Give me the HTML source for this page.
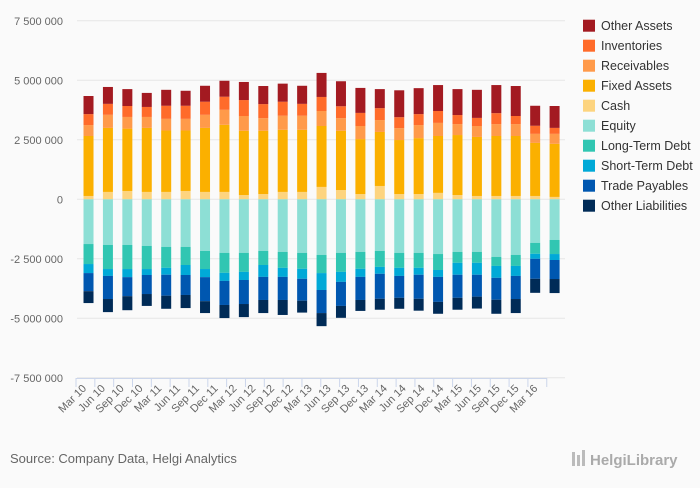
<!DOCTYPE html>
<html><head><meta charset="utf-8"><style>
body{margin:0;background:#fafafa;font-family:"Liberation Sans",sans-serif;}
svg text{font-family:"Liberation Sans",sans-serif;}
</style></head><body>
<svg id="chart" width="700" height="483" xmlns="http://www.w3.org/2000/svg">
<rect width="700" height="483" fill="#fafafa"/>
<g id="grid"></g>
<g id="bars"></g>
<g id="xaxis"></g>
<g id="legend"></g>
<text x="10" y="463" font-size="13" fill="#666">Source: Company Data, Helgi Analytics</text>
<g>
<rect x="572" y="452" width="3" height="14" fill="#bbb"/><rect x="577" y="455" width="3" height="11" fill="#bbb"/><rect x="582" y="450" width="3" height="16" fill="#bbb"/>
<text x="590" y="465" font-size="15" fill="#aaa" font-weight="bold">HelgiLibrary</text>
</g>
</svg>
<script>
const categories=["Mar 10","Jun 10","Sep 10","Dec 10","Mar 11","Jun 11","Sep 11","Dec 11","Mar 12","Jun 12","Sep 12","Dec 12","Mar 13","Jun 13","Sep 13","Dec 13","Mar 14","Jun 14","Sep 14","Dec 14","Mar 15","Jun 15","Sep 15","Dec 15","Mar 16"];
// values in millions
const cash=[0.14,0.31,0.35,0.31,0.31,0.35,0.31,0.31,0.18,0.22,0.31,0.31,0.52,0.39,0.22,0.56,0.22,0.22,0.27,0.18,0.14,0.14,0.14,0.14,0.10];
const fixedAssets=[2.52,2.69,2.62,2.69,2.58,2.54,2.69,2.82,2.70,2.66,2.61,2.61,2.56,2.49,2.31,2.27,2.27,2.35,2.39,2.52,2.48,2.52,2.52,2.23,2.23];
const receivables=[0.46,0.55,0.49,0.46,0.49,0.49,0.55,0.63,0.62,0.53,0.59,0.59,0.63,0.53,0.55,0.50,0.50,0.55,0.55,0.46,0.46,0.50,0.50,0.38,0.42];
const inventories=[0.46,0.46,0.46,0.42,0.55,0.55,0.55,0.55,0.67,0.59,0.59,0.50,0.59,0.50,0.55,0.50,0.46,0.46,0.50,0.38,0.34,0.46,0.34,0.34,0.25];
const otherAssets=[0.76,0.71,0.71,0.59,0.67,0.63,0.67,0.67,0.76,0.76,0.76,0.76,1.01,1.05,1.05,0.80,1.13,1.09,1.09,1.09,1.18,1.18,1.26,0.84,0.92];
const equity=[1.88,1.92,1.92,1.96,2.00,2.00,2.17,2.25,2.25,2.17,2.21,2.25,2.34,2.25,2.21,2.17,2.25,2.25,2.30,2.21,2.21,2.42,2.34,1.83,1.71];
const longTermDebt=[0.84,1.01,1.01,0.97,0.88,0.76,0.76,0.84,0.80,0.59,0.67,0.67,0.76,0.80,0.71,0.67,0.63,0.63,0.67,0.46,0.46,0.38,0.46,0.46,0.59];
const shortTermDebt=[0.38,0.29,0.34,0.25,0.29,0.42,0.34,0.34,0.34,0.50,0.38,0.42,0.71,0.42,0.34,0.29,0.34,0.29,0.29,0.50,0.50,0.50,0.42,0.21,0.25];
const tradePayables=[0.76,0.97,0.80,0.80,0.88,0.84,1.01,1.01,1.01,0.97,0.97,0.92,0.97,1.01,0.97,1.05,0.92,1.01,1.05,0.97,0.92,0.92,0.97,0.84,0.80];
const otherLiabilities=[0.50,0.55,0.59,0.50,0.55,0.55,0.50,0.55,0.55,0.55,0.63,0.50,0.55,0.50,0.46,0.46,0.46,0.50,0.50,0.50,0.50,0.59,0.59,0.59,0.59];
const yTicks=[7.5,5,2.5,0,-2.5,-5,-7.5];
const yTickLabels=["7 500 000","5 000 000","2 500 000","0","-2 500 000","-5 000 000","-7 500 000"];

const NS="http://www.w3.org/2000/svg";
const x0=78.8,band=19.42,barW=10,zeroY=199.3,pxPerM=23.8;
const yScale=v=>zeroY-v*pxPerM;
const xCenter=i=>x0+band*(i+0.5);
function mk(tag,attrs,parent){const e=document.createElementNS(NS,tag);for(const k in attrs)e.setAttribute(k,attrs[k]);parent.appendChild(e);return e;}

const grid=document.getElementById('grid');
yTicks.forEach((t,i)=>{
  const y=yScale(t);
  const l=mk('line',{x1:77,x2:565,y1:y,y2:y,stroke:'#e6e6e6','stroke-width':1},grid);
  
  
  const tx=mk('text',{x:63,y:y+4,'text-anchor':'end','font-size':11,fill:'#666'},grid);
  tx.textContent=yTickLabels[i];
  
  
});

const pos=[["cash",cash,"#fdd47f"],["fixed-assets",fixedAssets,"#fbb000"],["receivables",receivables,"#ff9a4a"],["inventories",inventories,"#ff6b2a"],["other-assets",otherAssets,"#a31a21"]];
const neg=[["equity",equity,"#8ddfd5"],["long-term-debt",longTermDebt,"#31c6b2"],["short-term-debt",shortTermDebt,"#00a9d7"],["trade-payables",tradePayables,"#0057b0"],["other-liabilities",otherLiabilities,"#002b57"]];
const bars=document.getElementById('bars');
categories.forEach((c,i)=>{
  let acc=0;
  pos.forEach(([n,arr,col])=>{
    const y1=yScale(acc),y2=yScale(acc+arr[i]);acc+=arr[i];
    const r=mk('rect',{x:xCenter(i)-barW/2,y:y2,width:barW,height:y1-y2,fill:col},bars);
    
    
  });
  acc=0;
  neg.forEach(([n,arr,col])=>{
    const y1=yScale(-acc),y2=yScale(-(acc+arr[i]));acc+=arr[i];
    const r=mk('rect',{x:xCenter(i)-barW/2,y:y1,width:barW,height:y2-y1,fill:col},bars);
    
    
  });
});

const xa=document.getElementById('xaxis');
const ax=mk('line',{x1:76,x2:547,y1:378.5,y2:378.5,stroke:'#ccd6eb'},xa);


for(let i=0;i<=categories.length;i++){
  const tx=76+i*18.83;
  const t=mk('line',{x1:tx,x2:tx,y1:378,y2:387,stroke:'#ccd6eb'},xa);
  
  
}
categories.forEach((c,i)=>{
  const lx=87+i*18.8,ly=389;
  const t=mk('text',{x:lx,y:ly,'text-anchor':'end','font-size':11,fill:'#666',transform:`rotate(-45 ${lx} ${ly})`},xa);
  t.textContent=c;
  
  
});

const legendItems=[["Other Assets","#a31a21"],["Inventories","#ff6b2a"],["Receivables","#ff9a4a"],["Fixed Assets","#fbb000"],["Cash","#fdd47f"],["Equity","#8ddfd5"],["Long-Term Debt","#31c6b2"],["Short-Term Debt","#00a9d7"],["Trade Payables","#0057b0"],["Other Liabilities","#002b57"]];
const lg=document.getElementById('legend');
legendItems.forEach(([n,col],i)=>{
  const cy=25.7+i*20;
  const g=mk('g',{},lg);
  
  
  mk('rect',{x:583,y:cy-6,width:12,height:12,fill:col},g);
  const t=mk('text',{x:601,y:cy+4.5,'font-size':12.5,fill:'#333'},g);
  t.textContent=n;
});
</script>
</body></html>
